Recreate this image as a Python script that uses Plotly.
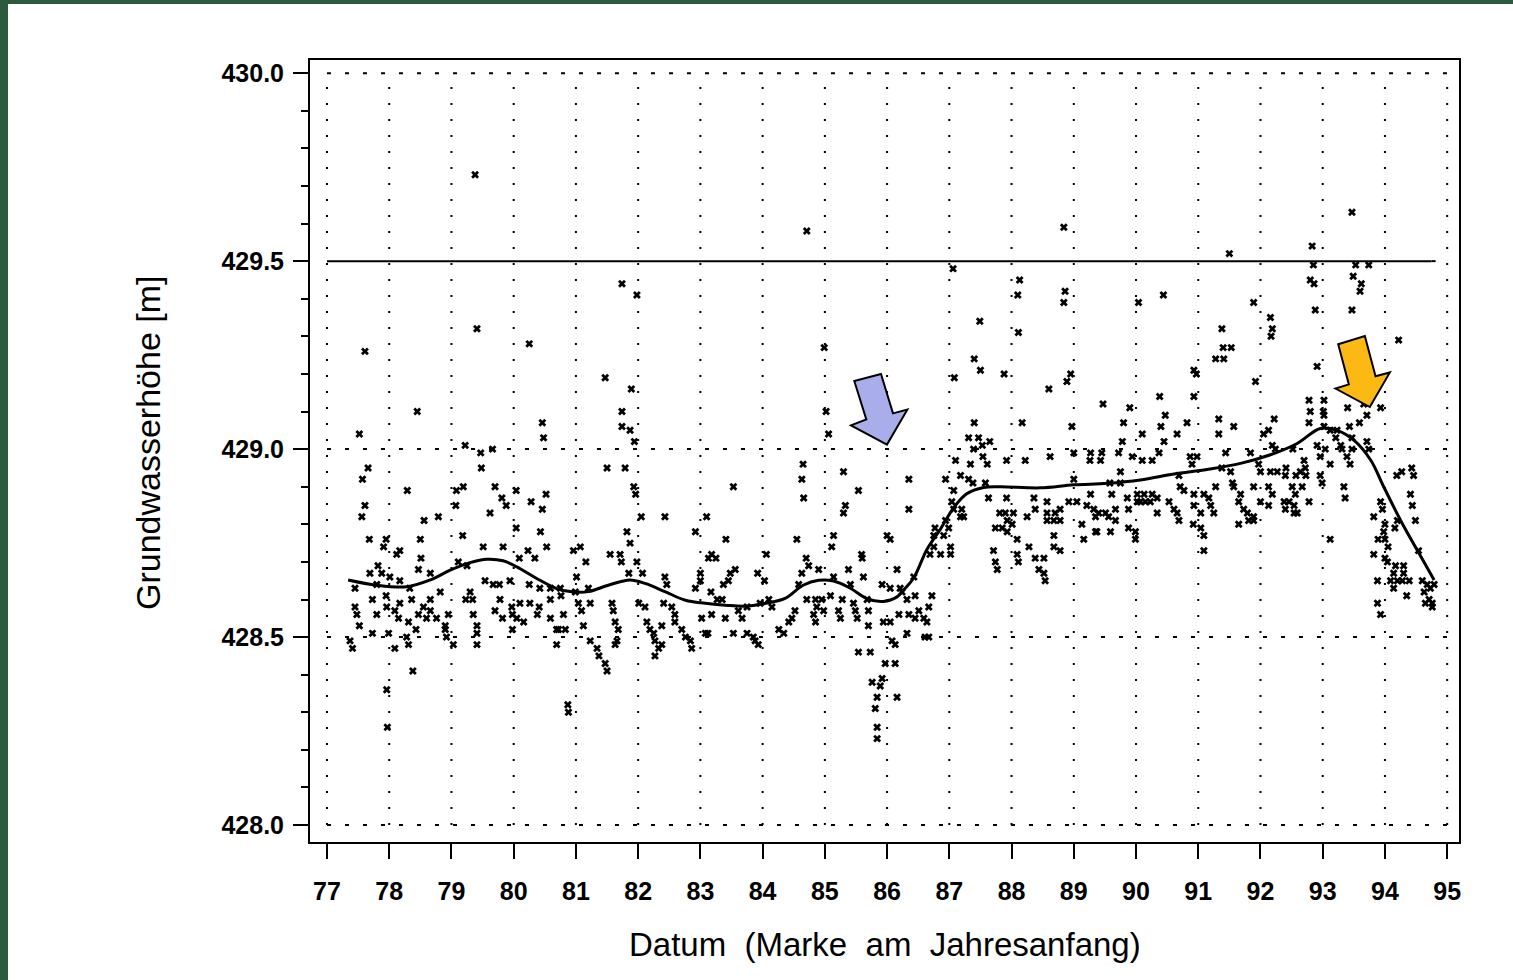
import plotly.graph_objects as go

# ---------------- data ----------------
year_ticks = list(range(77, 96))
level_ticks = [428.0, 428.5, 429.0, 429.5, 430.0]
level_minor = 0.1

obs_points = [
    # 77 - 81
    (77.61,429.26),(79.41,429.32),(80.25,429.28),(78.45,429.10),(77.52,429.04),(80.46,429.07),(80.48,429.03),
    (79.22,429.01),(79.47,428.99),(79.66,429.00),(79.48,428.95),(77.66,428.95),(77.57,428.92),(78.29,428.89),
    (79.08,428.89),(79.19,428.90),(79.70,428.90),(80.04,428.89),(80.52,428.88),(77.61,428.85),(77.56,428.82),
    (79.07,428.85),(79.81,428.87),(79.88,428.85),(80.28,428.86),(80.46,428.84),(79.62,428.83),(78.56,428.81),
    (78.79,428.82),(80.04,428.79),(80.43,428.78),(79.18,428.77),(77.68,428.76),(77.95,428.76),(77.91,428.74),
    (78.17,428.73),(78.12,428.72),(78.50,428.76),(79.51,428.74),(79.83,428.74),(80.23,428.73),(80.09,428.71),
    (80.53,428.74),(77.82,428.69),(77.69,428.67),(77.88,428.67),(78.51,428.71),(78.47,428.68),(78.66,428.67),
    (79.11,428.70),(79.25,428.69),(80.34,428.71),(78.01,428.66),(78.17,428.65),(77.45,428.63),(77.80,428.64),
    (78.33,428.63),(79.54,428.65),(79.67,428.64),(79.77,428.64),(79.94,428.65),(80.25,428.64),(80.42,428.63),
    (80.59,428.63),(80.75,428.63),(77.73,428.60),(77.95,428.61),(78.17,428.59),(78.36,428.60),(78.66,428.60),
    (78.82,428.62),(78.55,428.58),(78.66,428.57),(79.23,428.60),(79.34,428.60),(79.30,428.62),(79.78,428.60),
    (79.97,428.58),(80.10,428.59),(80.26,428.59),(80.41,428.58),(80.59,428.60),(80.76,428.61),(77.45,428.58),
    (77.48,428.56),(77.52,428.53),(77.80,428.56),(77.96,428.58),(78.09,428.57),(78.15,428.55),(78.31,428.54),
    (78.47,428.56),(78.60,428.55),(78.76,428.55),(78.95,428.56),(78.90,428.53),(79.35,428.56),(79.41,428.53),
    (79.70,428.57),(79.82,428.55),(79.98,428.56),(80.05,428.55),(80.16,428.54),(80.38,428.56),(80.59,428.55),
    (80.72,428.52),(80.80,428.56),(80.83,428.52),(77.37,428.49),(77.41,428.47),(77.73,428.51),(77.99,428.51),
    (78.09,428.47),(78.28,428.50),(78.31,428.48),(78.43,428.52),(78.90,428.52),(78.92,428.50),(79.03,428.48),
    (79.41,428.51),(79.41,428.48),(79.98,428.52),(80.69,428.52),(80.69,428.48),(78.38,428.41),(77.96,428.36),
    (77.97,428.26),(80.87,428.32),(80.88,428.30),(79.38,429.73),
    # 81 - 84.7
    (81.74,429.44),(81.98,429.41),(81.47,429.19),(81.89,429.16),(81.74,429.10),(81.74,429.06),(81.87,429.05),
    (81.94,429.02),(81.50,428.95),(81.79,428.95),(81.93,428.90),(81.96,428.88),(83.53,428.90),(84.65,428.96),
    (84.63,428.92),(84.66,428.87),(82.05,428.82),(82.43,428.82),(83.10,428.82),(82.92,428.78),(81.82,428.78),
    (81.87,428.75),(83.41,428.76),(84.55,428.76),(81.07,428.74),(80.96,428.73),(81.55,428.72),(81.71,428.72),
    (81.16,428.70),(81.73,428.70),(81.98,428.70),(83.18,428.72),(83.13,428.71),(83.25,428.71),(84.06,428.72),
    (81.85,428.67),(82.07,428.67),(81.01,428.66),(82.43,428.66),(82.46,428.64),(83.00,428.67),(83.00,428.65),
    (82.92,428.63),(83.48,428.67),(83.56,428.68),(83.37,428.64),(83.45,428.65),(83.92,428.67),(84.03,428.65),
    (84.63,428.67),(84.58,428.64),(81.20,428.63),(80.99,428.62),(83.17,428.62),(83.27,428.60),(83.35,428.60),
    (81.04,428.59),(81.23,428.59),(81.58,428.59),(81.09,428.57),(81.60,428.57),(82.01,428.59),(82.11,428.58),
    (82.41,428.59),(82.54,428.58),(82.59,428.56),(83.02,428.55),(83.18,428.56),(83.40,428.55),(83.61,428.57),
    (83.75,428.58),(83.67,428.55),(83.96,428.59),(84.10,428.60),(84.15,428.58),(84.52,428.57),(84.47,428.55),
    (84.42,428.54),(81.12,428.53),(81.63,428.54),(81.68,428.52),(82.14,428.54),(82.19,428.52),(82.38,428.53),
    (82.59,428.54),(82.70,428.52),(82.76,428.50),(83.75,428.51),(83.85,428.50),(83.88,428.49),(84.26,428.52),
    (84.34,428.51),(83.53,428.51),(83.08,428.51),(83.12,428.51),(81.23,428.49),(81.66,428.49),(81.63,428.48),
    (82.25,428.51),(82.27,428.49),(82.38,428.48),(82.33,428.47),(82.84,428.49),(82.86,428.47),(83.93,428.48),
    (81.34,428.47),(81.37,428.45),(81.47,428.43),(81.50,428.41),(82.27,428.45),
    # 84.7 - 88.5
    (84.71,429.58),(87.06,429.48),(88.13,429.45),(88.10,429.41),(87.49,429.34),(88.11,429.31),(84.99,429.27),
    (87.40,429.24),(87.50,429.21),(87.88,429.20),(87.08,429.19),(85.02,429.10),(87.40,429.07),(88.17,429.07),
    (85.06,429.04),(87.31,429.03),(87.47,429.03),(87.65,429.02),(87.53,429.01),(87.39,429.00),(87.54,428.98),
    (87.10,428.97),(87.34,428.96),(87.61,428.96),(87.92,428.97),(88.22,428.97),(85.30,428.94),(86.35,428.92),
    (86.94,428.92),(87.07,428.89),(87.18,428.93),(87.31,428.92),(87.38,428.91),(87.58,428.91),(85.54,428.89),
    (87.04,428.86),(87.07,428.84),(87.20,428.84),(87.18,428.82),(87.23,428.82),(87.63,428.87),(87.92,428.87),
    (88.36,428.87),(88.38,428.84),(88.25,428.82),(85.33,428.85),(85.30,428.83),(86.35,428.84),(87.81,428.83),
    (87.90,428.83),(88.03,428.83),(87.93,428.81),(88.01,428.80),(87.74,428.79),(87.85,428.79),(87.93,428.78),
    (88.09,428.76),(86.77,428.79),(86.75,428.77),(86.94,428.81),(86.91,428.77),(86.99,428.79),(86.00,428.77),
    (86.05,428.76),(85.14,428.77),(85.11,428.74),(86.75,428.74),(86.69,428.72),(86.86,428.72),(87.02,428.74),
    (87.02,428.72),(87.71,428.73),(87.74,428.70),(87.77,428.68),(88.09,428.72),(88.11,428.70),(88.28,428.74),
    (88.38,428.71),(88.44,428.68),(85.59,428.72),(85.60,428.71),(86.16,428.68),(84.70,428.71),(84.74,428.69),
    (84.90,428.68),(85.14,428.66),(85.38,428.68),(85.41,428.64),(85.62,428.66),(86.43,428.66),(85.92,428.64),
    (86.05,428.63),(86.21,428.63),(86.24,428.62),(84.71,428.60),(84.85,428.60),(84.95,428.60),(85.28,428.60),
    (85.09,428.61),(85.46,428.59),(85.68,428.60),(86.32,428.60),(86.45,428.61),(86.72,428.61),(84.87,428.58),
    (84.98,428.57),(84.82,428.56),(84.85,428.54),(85.22,428.57),(85.25,428.55),(85.49,428.57),(85.52,428.55),
    (85.70,428.57),(85.70,428.53),(85.94,428.54),(86.05,428.54),(86.19,428.56),(86.35,428.56),(86.51,428.57),
    (86.67,428.58),(86.45,428.55),(86.59,428.55),(86.64,428.54),(86.32,428.51),(86.61,428.50),(86.67,428.50),
    (86.08,428.49),(86.13,428.48),(85.54,428.46),(85.73,428.46),(86.13,428.43),(85.97,428.43),(85.76,428.38),
    (85.89,428.37),(85.92,428.39),(85.84,428.34),(86.16,428.34),(85.81,428.31),(85.84,428.26),(85.84,428.23),
    # 88.5 - 92.3
    (88.84,429.59),(91.50,429.52),(88.86,429.42),(88.84,429.39),(90.04,429.39),(90.44,429.41),(91.89,429.39),
    (92.16,429.35),(92.19,429.32),(92.17,429.30),(91.38,429.32),(91.40,429.27),(91.53,429.27),(91.28,429.24),
    (91.41,429.24),(88.95,429.20),(88.89,429.18),(90.93,429.21),(90.97,429.20),(91.92,429.18),(88.60,429.16),
    (89.47,429.12),(90.38,429.14),(90.93,429.14),(89.90,429.11),(90.47,429.09),(88.97,429.06),(89.80,429.07),
    (90.40,429.06),(90.82,429.07),(91.33,429.08),(91.57,429.06),(92.22,429.08),(90.10,429.04),(90.66,429.04),
    (89.78,429.02),(90.45,429.02),(91.33,429.04),(92.13,429.05),(92.05,429.04),(88.62,428.98),(89.00,428.99),
    (89.27,428.99),(89.45,428.99),(89.72,428.99),(89.26,428.97),(89.43,428.97),(89.94,428.98),(90.10,428.97),
    (90.26,428.97),(90.37,428.99),(90.87,428.98),(90.98,428.98),(90.90,428.96),(91.44,428.99),(91.84,428.99),
    (89.75,428.94),(89.58,428.91),(89.75,428.91),(89.00,428.92),(90.69,428.93),(90.71,428.90),(91.38,428.95),
    (91.52,428.94),(91.55,428.91),(91.97,428.96),(92.00,428.94),(92.16,428.94),(92.27,428.94),(91.28,428.90),
    (91.57,428.90),(91.68,428.88),(91.89,428.90),(92.13,428.90),(89.27,428.88),(89.05,428.86),(88.92,428.86),
    (89.21,428.85),(89.61,428.88),(89.86,428.87),(90.02,428.88),(90.13,428.88),(90.26,428.88),(90.23,428.86),
    (90.34,428.87),(90.77,428.89),(90.93,428.88),(91.09,428.88),(91.17,428.87),(88.57,428.86),(88.57,428.83),
    (88.70,428.83),(88.78,428.84),(89.32,428.84),(89.40,428.83),(89.51,428.83),(89.67,428.84),(89.88,428.84),
    (90.02,428.86),(90.07,428.86),(90.15,428.86),(90.34,428.83),(90.53,428.86),(90.61,428.84),(90.66,428.83),
    (90.69,428.81),(90.93,428.85),(91.04,428.83),(91.20,428.85),(91.25,428.83),(91.65,428.86),(91.73,428.84),
    (91.79,428.83),(91.89,428.82),(92.00,428.86),(92.13,428.85),(88.57,428.81),(88.68,428.81),(88.78,428.81),
    (89.13,428.80),(89.37,428.78),(89.59,428.78),(89.35,428.82),(89.56,428.82),(89.67,428.81),(89.88,428.79),
    (89.99,428.78),(89.99,428.76),(90.92,428.80),(91.04,428.79),(91.09,428.77),(91.09,428.73),(91.65,428.80),
    (91.81,428.81),(91.89,428.81),(88.68,428.77),(88.68,428.74),(88.78,428.73),(89.16,428.76),(89.35,428.78),
    (88.52,428.71),(88.52,428.67),(88.54,428.65),
    # 92.3 - 95
    (93.47,429.63),(92.83,429.54),(92.85,429.49),(93.53,429.49),(93.74,429.49),(93.49,429.46),(93.62,429.44),
    (93.60,429.42),(92.80,429.45),(92.86,429.44),(92.88,429.37),(93.47,429.37),(94.22,429.29),(92.91,429.22),
    (92.78,429.13),(93.02,429.13),(92.80,429.10),(93.01,429.10),(93.02,429.09),(93.40,429.11),(93.66,429.12),
    (93.93,429.11),(93.71,429.09),(93.59,429.07),(93.43,429.06),(92.78,429.07),(93.02,429.06),(93.12,429.05),
    (93.23,429.05),(93.21,429.03),(93.29,429.01),(93.31,429.00),(93.47,429.03),(93.47,429.00),(93.71,429.02),
    (93.74,429.00),(92.91,429.01),(92.96,428.98),(93.04,429.00),(92.19,429.01),(92.24,429.00),(92.52,429.00),
    (92.70,428.97),(92.72,428.95),(92.64,428.94),(93.12,428.96),(93.39,428.98),(93.44,428.96),(92.41,428.95),
    (92.40,428.93),(92.57,428.93),(92.73,428.93),(92.96,428.93),(92.99,428.91),(94.19,428.93),(94.27,428.94),
    (94.43,428.95),(94.46,428.93),(92.19,428.88),(92.51,428.90),(92.56,428.88),(92.67,428.90),(93.34,428.90),
    (93.36,428.87),(94.41,428.88),(94.44,428.85),(92.38,428.86),(92.46,428.86),(92.54,428.85),(92.40,428.84),
    (92.54,428.83),(92.59,428.83),(92.78,428.86),(93.93,428.86),(93.96,428.84),(93.82,428.82),(94.00,428.80),
    (93.98,428.78),(94.16,428.79),(94.20,428.81),(94.49,428.81),(93.12,428.76),(93.89,428.76),(94.00,428.76),
    (94.05,428.74),(94.54,428.73),(93.82,428.72),(94.00,428.71),(94.04,428.70),(94.17,428.69),(94.30,428.69),
    (94.14,428.67),(94.30,428.67),(94.20,428.65),(94.28,428.65),(94.39,428.65),(93.88,428.65),(94.09,428.65),
    (94.14,428.63),(94.35,428.61),(94.60,428.65),(94.68,428.64),(94.73,428.63),(94.79,428.64),(94.63,428.62),
    (94.71,428.60),(94.76,428.59),(94.65,428.59),(94.76,428.58),(93.88,428.59),(93.93,428.56),
]
obs_year = [p[0] for p in obs_points]
obs_level = [p[1] for p in obs_points]

trend_year = [77.34, 77.80, 78.28, 78.66, 78.98, 79.30, 79.57, 79.83, 80.05, 80.37, 80.69, 80.91, 81.20,
              81.52, 81.87, 82.11, 82.43, 82.76, 83.08, 83.40, 83.72, 84.05, 84.36, 84.65, 84.90, 85.14,
              85.41, 85.68, 85.94, 86.16, 86.27, 86.43, 86.64, 86.86, 87.07, 87.28, 87.55, 87.82, 88.46,
              89.00, 89.54, 90.07, 90.61, 91.14, 91.68, 92.16, 92.59, 92.96, 93.23, 93.50, 93.77, 93.98,
              94.25, 94.52, 94.79]
trend_level = [428.652, 428.638, 428.634, 428.652, 428.678, 428.698, 428.707, 428.703, 428.687, 428.656,
               428.629, 428.621, 428.621, 428.638, 428.652, 428.643, 428.621, 428.598, 428.590, 428.585,
               428.582, 428.590, 428.603, 428.638, 428.651, 428.649, 428.630, 428.602, 428.595, 428.607,
               428.626, 428.658, 428.733, 428.788, 428.844, 428.881, 428.898, 428.900, 428.897, 428.905,
               428.909, 428.918, 428.934, 428.946, 428.962, 428.985, 429.015, 429.055, 429.050, 429.024,
               428.971, 428.900, 428.811, 428.731, 428.652]

reference_level = 429.5
reference_end = 94.75

arrow_blue = [(85.473, 429.181), (85.902, 429.200), (86.095, 429.095), (86.325, 429.105),
              (85.998, 429.012), (85.420, 429.063), (85.666, 429.079)]
arrow_orange = [(93.249, 429.279), (93.677, 429.301), (93.849, 429.194), (94.079, 429.204),
                (93.757, 429.112), (93.206, 429.161), (93.420, 429.172)]

# ---------------- figure ----------------
W, H = 1513, 980
ML, MR, MT, MB = 310, 54, 60, 138
PW, PH = W - ML - MR, H - MT - MB


def px_x(p):
    return (p - ML) / PW


def px_y(p):
    return (H - MB - p) / PH


fig = go.Figure()

fig.add_trace(go.Scatter(
    x=obs_year, y=obs_level, mode="markers",
    marker=dict(symbol="x", size=7, color="black", line=dict(width=0)),
    showlegend=False, hoverinfo="x+y"))

fig.add_trace(go.Scatter(
    x=trend_year, y=trend_level, mode="lines",
    line=dict(color="black", width=3, shape="spline", smoothing=1.0),
    showlegend=False))

shapes = []
x0, x1 = year_ticks[0], year_ticks[-1]
y0, y1 = level_ticks[0], level_ticks[-1]
for yv in level_ticks:
    if yv == reference_level:
        shapes.append(dict(type="line", xref="x", yref="y", x0=x0, x1=reference_end, y0=yv, y1=yv,
                           line=dict(color="black", width=2), layer="below"))
        shapes.append(dict(type="line", xref="x", yref="y", x0=reference_end, x1=x1, y0=yv, y1=yv,
                           line=dict(color="black", width=2, dash="4px,14px"), layer="below"))
    else:
        shapes.append(dict(type="line", xref="x", yref="y", x0=x0, x1=x1, y0=yv, y1=yv,
                           line=dict(color="black", width=2, dash="4px,14px"), layer="below"))
for xv in year_ticks:
    shapes.append(dict(type="line", xref="x", yref="y", x0=xv, x1=xv, y0=y0, y1=y1,
                       line=dict(color="black", width=2, dash="2px,14px"), layer="below"))


def poly(pts):
    return "M " + " L ".join(f"{a},{b}" for a, b in pts) + " Z"


shapes.append(dict(type="path", xref="x", yref="y", path=poly(arrow_blue),
                   fillcolor="#a9aeea", line=dict(color="black", width=2), layer="above"))
shapes.append(dict(type="path", xref="x", yref="y", path=poly(arrow_orange),
                   fillcolor="#fdb913", line=dict(color="black", width=2), layer="above"))

# dark green page frame (left and top edges)
green = "#2b5a3c"
shapes.append(dict(type="rect", xref="paper", yref="paper", x0=px_x(0), x1=px_x(8), y0=px_y(H), y1=px_y(0),
                   fillcolor=green, line=dict(width=0), layer="above"))
shapes.append(dict(type="rect", xref="paper", yref="paper", x0=px_x(0), x1=px_x(W), y0=px_y(4), y1=px_y(0),
                   fillcolor=green, line=dict(width=0), layer="above"))

tick_font = dict(family="Liberation Sans, Arial, sans-serif", size=25, color="black", weight="bold")
title_font_family = "Liberation Sans, Arial, sans-serif"

fig.update_layout(
    width=W, height=H,
    margin=dict(l=ML, r=MR, t=MT, b=MB, pad=0),
    paper_bgcolor="white", plot_bgcolor="white",
    shapes=shapes,
    xaxis=dict(range=[76.727, 95.19], tickvals=year_ticks, ticktext=[str(v) for v in year_ticks],
               ticks="outside", ticklen=15, tickwidth=2, tickcolor="black",
               showline=True, linecolor="black", linewidth=2, mirror=True,
               showgrid=False, zeroline=False, tickfont=tick_font, ticklabelstandoff=11),
    yaxis=dict(range=[427.955, 430.035], tickvals=level_ticks, tickformat=".1f",
               ticks="outside", ticklen=15, tickwidth=2, tickcolor="black",
               minor=dict(dtick=level_minor, ticks="outside", ticklen=7, tickwidth=1.5,
                          tickcolor="black", showgrid=False),
               showline=True, linecolor="black", linewidth=2, mirror=True,
               showgrid=False, zeroline=False, tickfont=tick_font, ticklabelstandoff=4),
    annotations=[
        dict(text="Datum\u00a0 (Marke\u00a0 am\u00a0 Jahresanfang)", xref="paper", yref="paper",
             x=px_x(885), y=px_y(945), xanchor="center", yanchor="middle", showarrow=False,
             font=dict(family=title_font_family, size=33, color="black")),
        dict(text="Grundwasserhöhe [m]", xref="paper", yref="paper",
             x=px_x(148), y=px_y(443), xanchor="center", yanchor="middle", showarrow=False,
             textangle=-90, font=dict(family=title_font_family, size=34, color="black")),
    ],
)

fig.write_html("out.html", config={"displayModeBar": False})

# remove the browser's default page margin so the figure sits at the window origin
with open("out.html", "r", encoding="utf-8") as fh:
    page = fh.read()
page = page.replace("<head>", "<head><style>html,body{margin:0;padding:0;overflow:hidden;}</style>", 1)
with open("out.html", "w", encoding="utf-8") as fh:
    fh.write(page)
